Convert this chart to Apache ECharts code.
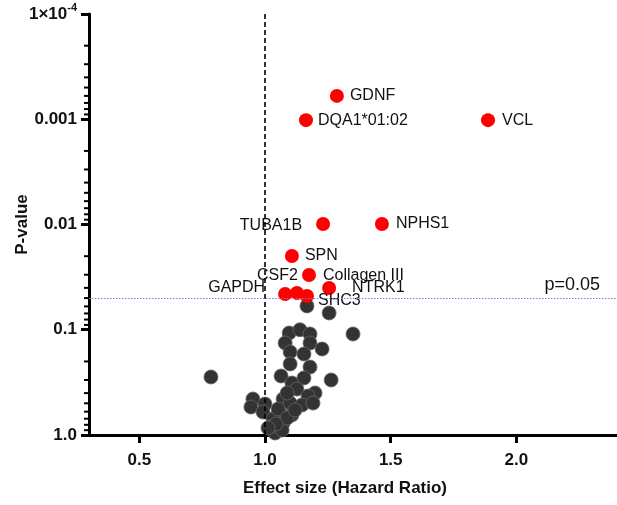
<!DOCTYPE html>
<html>
<head>
<meta charset="utf-8">
<script src="https://cdn.jsdelivr.net/npm/echarts@6/dist/echarts.min.js"></script>
<style>
html,body{margin:0;padding:0;background:#fff;}
#chart{width:617px;height:505px;}
</style>
</head>
<body>
<div id="chart"></div>
<script>
// ---- data ----
var sigNames = ['GDNF','DQA1*01:02','VCL','TUBA1B','NPHS1','SPN','Collagen III','CSF2','GAPDH','SHC3','NTRK1'];
var sigHR    = [1.286, 1.163, 1.887, 1.231, 1.465, 1.107, 1.175, 1.127, 1.080, 1.167, 1.255];
var sigP     = [0.00060, 0.00102, 0.00102, 0.0099, 0.0099, 0.0199, 0.0302, 0.0448, 0.0457, 0.0478, 0.0401];

var nsHR = [1.167,1.255,1.350,0.785,1.096,1.139,1.179,1.080,1.179,1.100,1.155,1.227,1.100,1.179,1.064,1.155,1.263,1.107,1.127,1.199,1.171,0.952,0.944,1.000,1.072,1.100,1.147,1.191,0.992,1.107,1.060,1.032,1.072,1.040,1.068,1.020,1.088,1.052,1.088,1.044,1.119,1.012];
var nsP  = [0.0594,0.0693,0.1097,0.281,0.1074,0.100,0.1097,0.1336,0.1336,0.1626,0.1699,0.1524,0.2115,0.226,0.275,0.287,0.300,0.321,0.366,0.399,0.426,0.455,0.542,0.508,0.455,0.497,0.519,0.497,0.605,0.645,0.618,0.705,0.769,0.957,0.896,0.839,0.399,0.566,0.689,0.786,0.579,0.858];

var xTickValues = [0.5, 1.0, 1.5, 2.0];
var yTickLabels = {'-4':'1×10{sup|-4}', '-3':'0.001', '-2':'0.01', '-1':'0.1', '0':'1.0'};
var thresholdP = 0.05;
var thresholdLabel = 'p=0.05';
var refHR = 1.0;
var xTitle = 'Effect size (Hazard Ratio)';
var yTitle = 'P-value';

// ---- label placement (style, not data) ----
var labelPlace = {
  'GDNF':        {position:'right', distance:6,  offset:[0,0]},
  'DQA1*01:02':  {position:'right', distance:5,  offset:[0,0]},
  'VCL':         {position:'right', distance:7,  offset:[0,0]},
  'TUBA1B':      {position:'left',  distance:14, offset:[0,2]},
  'NPHS1':       {position:'right', distance:7,  offset:[0,0]},
  'SPN':         {position:'right', distance:6,  offset:[0,0]},
  'Collagen III':{position:'right', distance:7,  offset:[0,1]},
  'CSF2':        {position:'left',  distance:5,  offset:[13,-17]},
  'GAPDH':       {position:'left',  distance:13, offset:[0,-6]},
  'SHC3':        {position:'right', distance:4,  offset:[0,5]},
  'NTRK1':       {position:'right', distance:16, offset:[0,0]}
};

var FONT = '"Liberation Sans", Arial, Helvetica, sans-serif';

var yMinorTicks = [];
for (var e = -4; e < 0; e++) {
  for (var k = 2; k <= 9; k++) yMinorTicks.push(k * Math.pow(10, e));
}

var sigData = sigNames.map(function (n, i) {
  var lp = labelPlace[n];
  return {
    name: n,
    value: [sigHR[i], sigP[i]],
    label: {show:true, formatter:n, position:lp.position, distance:lp.distance, offset:lp.offset}
  };
});
var nsData = nsHR.map(function (h, i) { return [h, nsP[i]]; });

var XMIN = 0.3, XMAX = 2.4;

var chart = echarts.init(document.getElementById('chart'), null, {renderer:'canvas'});
chart.setOption({
  animation: false,
  backgroundColor: '#fff',
  grid: {left: 89, right: 0, top: 14, bottom: 70, containLabel: false, outerBoundsMode: 'none'},
  xAxis: {
    type: 'value', min: XMIN, max: XMAX,
    name: xTitle, nameLocation: 'middle', nameGap: 45, nameMoveOverlap: false,
    nameTextStyle: {fontFamily: FONT, fontSize: 17, fontWeight: 'bold', color: '#111', padding:[0,16,0,0]},
    axisLine: {lineStyle: {color: '#000', width: 3}},
    axisTick: {show: true, length: 8, inside: false, customValues: xTickValues, lineStyle: {color:'#000', width: 3}},
    axisLabel: {customValues: xTickValues, margin: 17, fontFamily: FONT, fontSize: 17, fontWeight: 'bold', color: '#111',
      formatter: function (v) { return Number(v).toFixed(1); }},
    splitLine: {show: false}
  },
  yAxis: {
    type: 'log', logBase: 10, min: 0.0001, max: 1, inverse: true,
    name: yTitle, nameLocation: 'middle', nameGap: 58, nameMoveOverlap: false,
    nameTextStyle: {fontFamily: FONT, fontSize: 17, fontWeight: 'bold', color: '#111'},
    axisLine: {lineStyle: {color: '#000', width: 3}},
    axisTick: {show: true, length: 8, inside: false, lineStyle: {color:'#000', width: 3}},
    axisLabel: {margin: 12, fontFamily: FONT, fontSize: 17, fontWeight: 'bold', color: '#111',
      formatter: function (v) { return yTickLabels[String(Math.round(Math.log10(v)))] || ''; },
      rich: {sup: {fontFamily: FONT, fontSize: 11, fontWeight: 'bold', color: '#111', padding: [0,0,12,0]}}
    },
    splitLine: {show: false}
  },
  series: [
    {
      type: 'custom',
      name: 'minorTicks',
      clip: false, silent: true,
      data: yMinorTicks.map(function (v) { return [XMIN, v]; }),
      renderItem: function (params, api) {
        var p = api.coord([api.value(0), api.value(1)]);
        return {type:'line', shape:{x1:p[0]-5, y1:p[1], x2:p[0], y2:p[1]}, style:{stroke:'#000', lineWidth:2}};
      },
      z: 1
    },
    {
      type: 'scatter', name: 'ns', data: nsData, symbolSize: 14,
      itemStyle: {color: '#333333', borderColor: '#666', borderWidth: 0.8, opacity: 1},
      markLine: {
        silent: true, symbol: ['none','none'],
        data: [
          {xAxis: refHR, lineStyle: {color:'#000', width: 1.6, type: [5,3]}, label: {show:false}},
          {yAxis: thresholdP, lineStyle: {color:'#7b7bdc', width: 1, type: [1.5,1.5]},
           label: {show: true, position: 'insideEndTop', formatter: thresholdLabel, fontFamily: FONT, fontSize: 18, color: '#111', distance: [17, 4]}}
        ]
      },
      z: 3
    },
    {
      type: 'scatter', name: 'sig', data: sigData, symbolSize: 14,
      itemStyle: {color: '#ff0000', borderColor: '#ff0000', borderWidth: 0, opacity: 1},
      label: {fontFamily: FONT, fontSize: 16, color: '#111'},
      z: 4
    }
  ]
});
</script>
</body>
</html>
